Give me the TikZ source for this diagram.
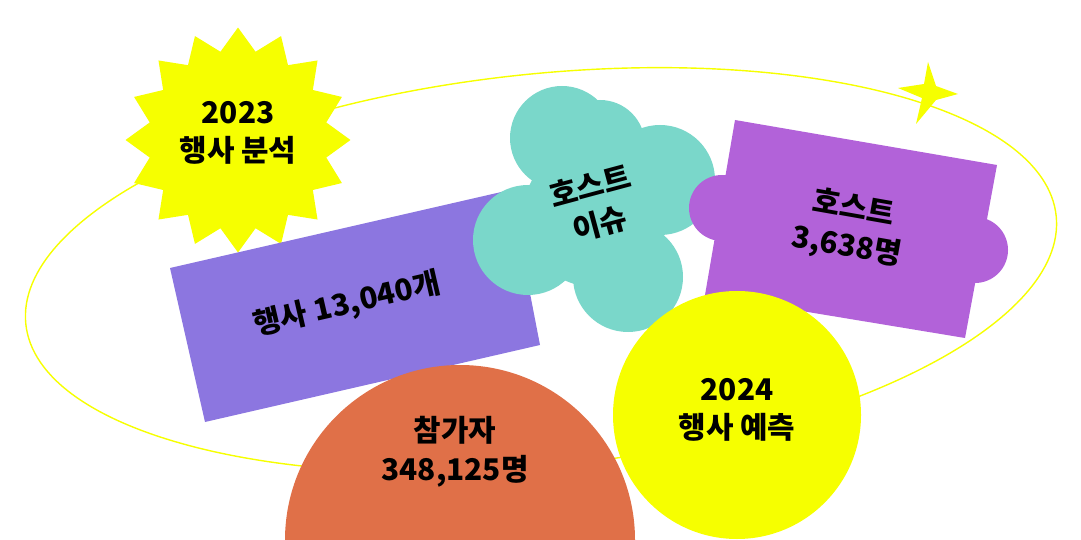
\documentclass[tikz,border=0pt]{standalone}
\usepackage{fontspec}
\setmainfont{Noto Sans CJK KR}
\usetikzlibrary{shapes.geometric}
\definecolor{lemon}{HTML}{F6FF00}
\definecolor{lavender}{HTML}{8C76E0}
\definecolor{mint}{HTML}{7AD7CA}
\definecolor{orchid}{HTML}{B262D9}
\definecolor{coral}{HTML}{E07048}
\tikzset{label/.style={font=\bfseries\fontsize{17}{22}\selectfont,align=center,text=black}}

\begin{document}
\begin{tikzpicture}[x=0.02cm,y=-0.02cm]
\useasboundingbox (0,0) rectangle (1081,540);
\clip (0,0) rectangle (1081,540);
% orbit
\draw[lemon,line width=0.8pt,rotate around={6:(541,270)}] (541,270) ellipse (518 and 196);
% 2023 badge
\node[star,star points=16,star point ratio=1.25,minimum size=4.5cm,fill=lemon,inner sep=0] (badge) at (238,140) {};
\node[label] (badgetext) at (238,133) {2023\\행사 분석};
\fill[lemon] (928,62) -- (936,86) -- (958,94) -- (936,100) -- (916,124) -- (922,98) -- (898,88) -- (924,84) -- cycle;
% events
\fill[lavender] (170,268) -- (510,190) -- (540,345) -- (205,422) -- cycle;
\node[label,rotate=13] (events) at (347,305) {행사 13,040개};
% host issue
\fill[mint] (595,215) circle (72);
\foreach \px/\py/\r in {562/138/52, 660/180/55, 528/240/55, 628/277/55, 600/145/45}
  \fill[mint] (\px,\py) circle (\r);
\node[label,rotate=15] (issue) at (595,205) {호스트\\이슈};
% hosts
\fill[orchid] (735,120) -- (997,165) -- (965,338) -- (705,295) -- cycle;
\fill[orchid] (722,208) circle (33);
\fill[orchid] (975,250) circle (33);
\node[label,rotate=-10] (hosts) at (850,228) {호스트\\3,638명};
% forecast
\fill[lemon] (737,415) circle (124);
\node[label] (forecast) at (737,410) {2024\\행사 예측};
% attendees
\fill[coral] (285,540) arc (180:360:175);
\node[label] (people) at (455,452) {참가자\\348,125명};
\end{tikzpicture}
\end{document}
